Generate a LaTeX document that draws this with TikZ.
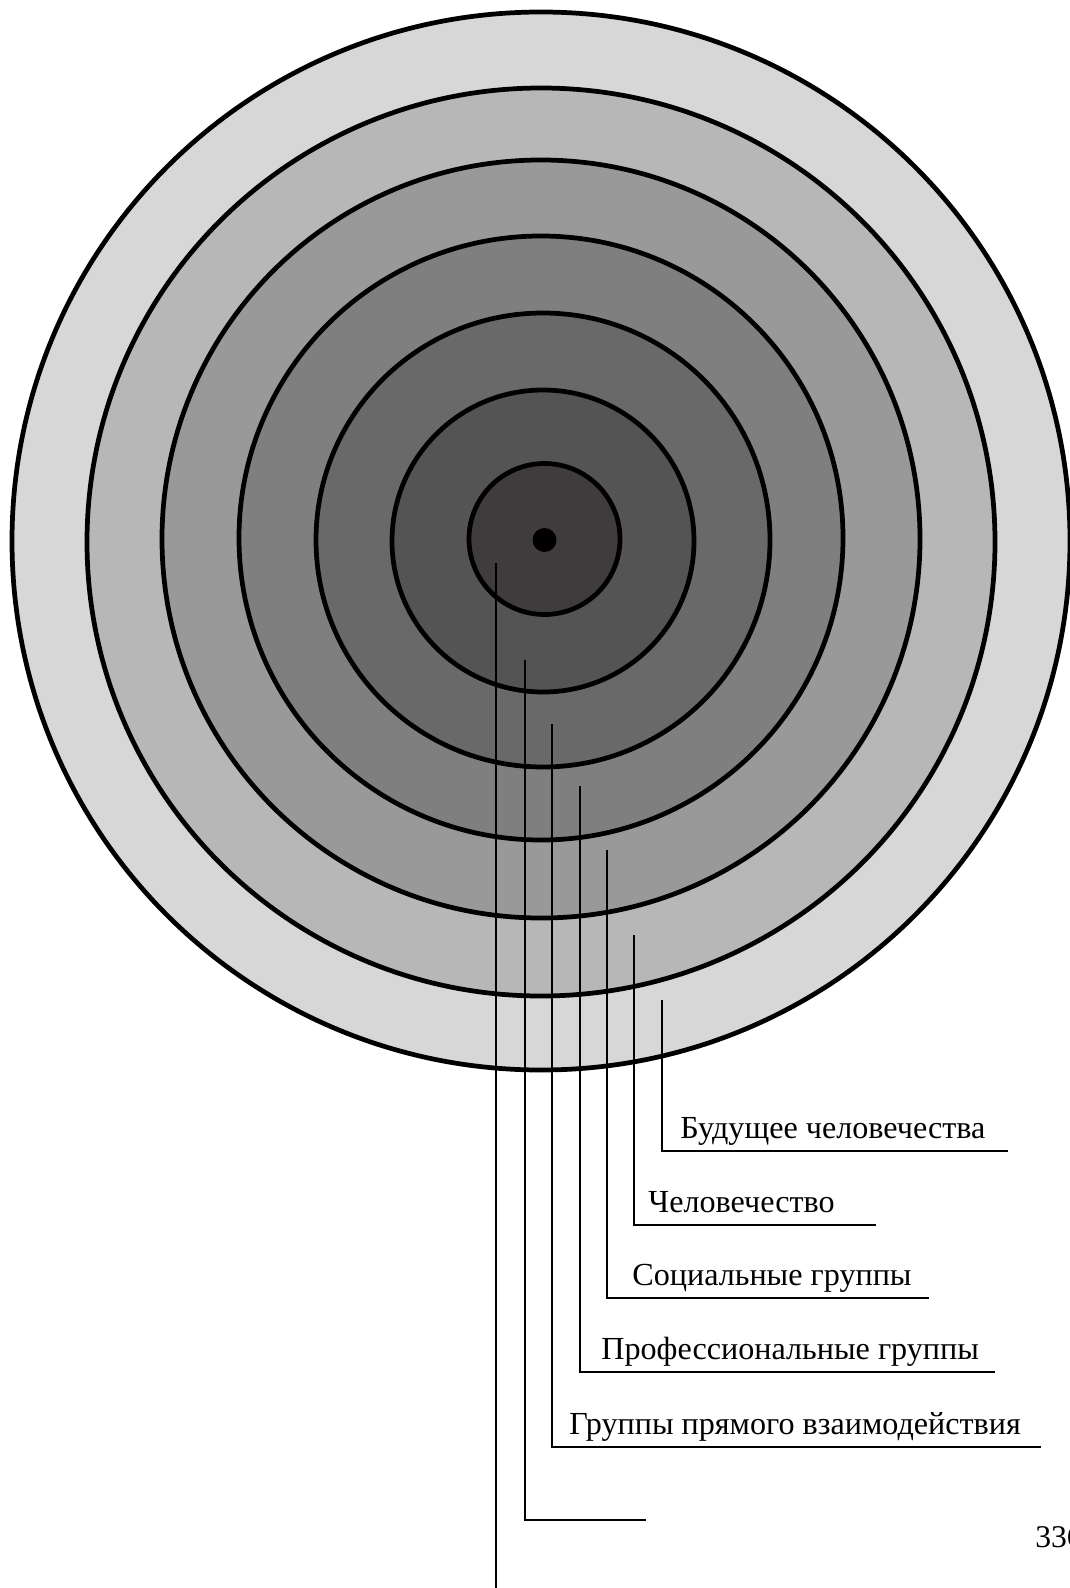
\documentclass[tikz,border=0pt]{standalone}
\usepackage{fontspec}
\setmainfont{Liberation Serif}
\usepackage{tikz}
\usetikzlibrary{calc}
\definecolor{ring1}{HTML}{403C3D}
\definecolor{ring2}{HTML}{545454}
\definecolor{ring3}{HTML}{696969}
\definecolor{ring4}{HTML}{7F7F7F}
\definecolor{ring5}{HTML}{999999}
\definecolor{ring6}{HTML}{B7B7B7}
\definecolor{ring7}{HTML}{D7D7D7}

\begin{document}
\begin{tikzpicture}[
    x=0.02cm, y=-0.02cm,
    every node/.style={font=\fontsize{18.3}{22}\selectfont, inner sep=0pt},
    kreis/.style={draw=black, line width=2.7pt},
    leiter/.style={draw=black, line width=1pt},
  ]
  \useasboundingbox (0,0) rectangle (1070,1588);
  \clip (0,0) rectangle (1070,1588);

  % Ringe von aussen nach innen
  \foreach \r/\cx/\cy/\farbe in {529/541/541/ring7, 454/541/542/ring6,
      379/541/539/ring5, 302/541/538/ring4, 227/543/540/ring3,
      151/543/541/ring2, 75.5/544.5/539/ring1}
    \filldraw[kreis, fill=\farbe] (\cx,\cy) circle[radius=\r];

  % Mittelpunkt
  \coordinate (mitte) at (544.5,540);
  \fill[black] (mitte) circle[radius=12];

  % Fuehrungslinien mit Beschriftung
  \foreach \i/\lx/\ty/\uy/\ux/\tx/\txt in {
      1/662/1000/1151/1008/680/Будущее человечества,
      2/634/935/1225/876/648/Человечество,
      3/607/850/1298/929/632/Социальные группы,
      4/580/786/1372/995/601/Профессиональные группы,
      5/552/724/1447/1041/569/Группы прямого взаимодействия,
      6/525/660/1520/646/560/{}}{
    \coordinate (oben\i) at (\lx,\ty);
    \coordinate (ende\i) at (\ux,\uy);
    \draw[leiter] (oben\i) |- (ende\i);
    \node[anchor=base west] (text\i) at (\tx,\uy-13) {\txt};
  }

  % innerste Linie bis zum Rand
  \coordinate (oben7) at (496,563);
  \coordinate (ende7) at (496,1588);
  \draw[leiter] (oben7) -- (ende7);

  % Seitenzahl (am Rand abgeschnitten)
  \node[anchor=base west, font=\fontsize{18}{20}\selectfont] (seite) at (1035,1547) {336};
\end{tikzpicture}
\end{document}
